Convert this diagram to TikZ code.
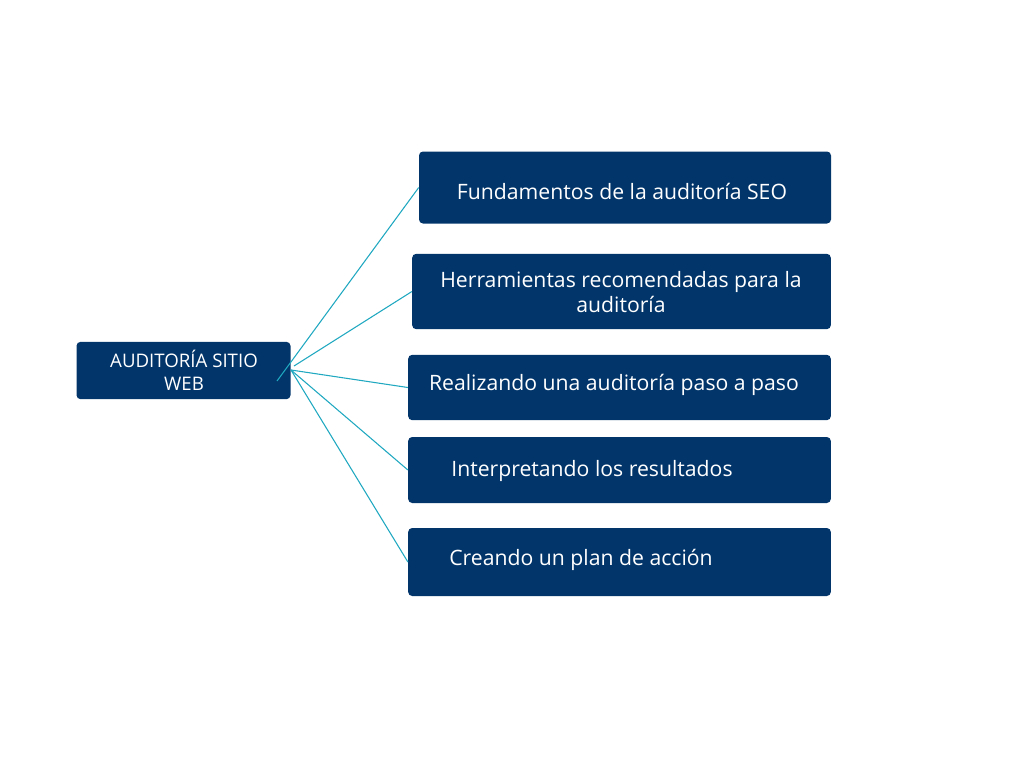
\documentclass[tikz,border=0pt]{standalone}
\usepackage{fontspec}
\setmainfont{Open Sans}
\definecolor{navy}{HTML}{02356A}
\definecolor{teal}{HTML}{1FA8C0}
\begin{document}
\begin{tikzpicture}[x=0.75pt, y=-0.75pt,
        box/.style={fill=navy, rounded corners=3pt, inner sep=0pt},
        label/.style={text=white, align=center, font=\fontsize{15.9}{19}\selectfont},
        link/.style={draw=teal, line width=0.8pt}]
        \useasboundingbox (0,0) rectangle (1024,768);
        % boxes
        \node[box, minimum width=160.5pt, minimum height=43pt] (root) at (183.5, 370.5) {};
        \node[box, minimum width=309pt, minimum height=54pt] (b1) at (625, 187.5) {};
        \node[box, minimum width=314pt, minimum height=56.5pt] (b2) at (621.5, 291.5) {};
        \node[box, minimum width=317pt, minimum height=49pt] (b3) at (619.5, 387.5) {};
        \node[box, minimum width=317pt, minimum height=49.5pt] (b4) at (619.5, 470) {};
        \node[box, minimum width=317pt, minimum height=51pt] (b5) at (619.5, 562) {};
        % texts
        \node[label, font=\fontsize{14}{17}\selectfont] (t0) at (184, 370.5) {AUDITORÍA SITIO\\WEB};
        \node[label] (t1) at (622, 191) {Fundamentos de la auditoría SEO};
        \node[label] (t2) at (621, 292) {Herramientas recomendadas para la\\auditoría};
        \node[label] (t3) at (614, 385) {Realizando una auditoría paso a paso};
        \node[label] (t4) at (592, 471) {Interpretando los resultados};
        \node[label] (t5) at (581, 560) {Creando un plan de acción};
        % hub points
        \coordinate (h1) at (277, 381);
        \coordinate (h2) at (294, 366);
        \coordinate (h) at (291, 370);
        \draw[link] (h1) -- (b1.west);
        \draw[link] (h2) -- (b2.west);
        \draw[link] (h) -- (b3.west);
        \draw[link] (h) -- (b4.west);
        \draw[link] (h) -- (b5.west);
    \end{tikzpicture}
\end{document}
